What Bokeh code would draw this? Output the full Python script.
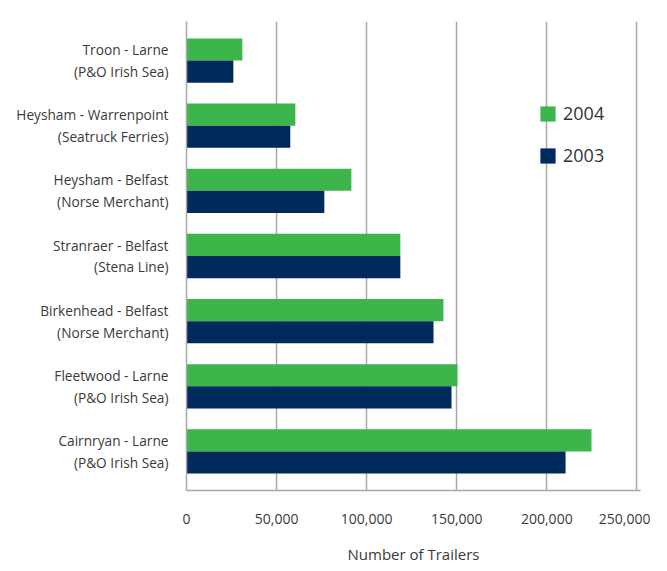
from bokeh.plotting import figure
from bokeh.models import Range1d, FixedTicker, NumeralTickFormatter, Legend, LegendItem, ColumnDataSource
from bokeh.embed import file_html
from bokeh.resources import INLINE

routes = [
    "Troon - Larne\n(P&O Irish Sea)",
    "Heysham - Warrenpoint\n(Seatruck Ferries)",
    "Heysham - Belfast\n(Norse Merchant)",
    "Stranraer - Belfast\n(Stena Line)",
    "Birkenhead - Belfast\n(Norse Merchant)",
    "Fleetwood - Larne\n(P&O Irish Sea)",
    "Cairnryan - Larne\n(P&O Irish Sea)",
]
trailers_2004 = [31000, 60400, 91500, 118700, 142600, 150400, 224800]
trailers_2003 = [26000, 57600, 76500, 118700, 137100, 147100, 210400]
x_ticks = [0, 50000, 100000, 150000, 200000, 250000]

GREEN = "#3cb54a"
NAVY = "#00295c"
GRID = "#a8a8a8"
TEXT = "#3a3a3a"
FONT = "Open Sans"

idx = list(range(len(routes)))
off = 0.17
src04 = ColumnDataSource(dict(y=[i - off for i in idx], v=trailers_2004))
src03 = ColumnDataSource(dict(y=[i + off for i in idx], v=trailers_2003))

p = figure(
    output_backend="svg", toolbar_location=None,
    frame_width=454, frame_height=469,
    min_border_left=186, min_border_top=21, min_border_right=10, min_border_bottom=72,
    x_range=Range1d(0, 252000), y_range=Range1d(6.6, -0.6),
)
p.outline_line_color = None
p.background_fill_color = "white"
p.border_fill_color = "white"

r04 = p.hbar(y="y", right="v", left=0, height=0.34, source=src04, fill_color=GREEN, line_color=None)
r03 = p.hbar(y="y", right="v", left=0, height=0.34, source=src03, fill_color=NAVY, line_color=None)

# x axis
p.xaxis.ticker = FixedTicker(ticks=x_ticks)
p.xaxis.formatter = NumeralTickFormatter(format="0,0")
p.xaxis.major_tick_line_color = None
p.xaxis.minor_tick_line_color = None
p.xaxis.axis_line_color = GRID
p.xaxis.axis_line_width = 1.5
p.xaxis.major_label_text_font = FONT
p.xaxis.major_label_text_font_size = "14px"
p.xaxis.major_label_text_color = TEXT
p.xaxis.major_label_standoff = 17
p.xaxis.axis_label = "Number of Trailers"
p.xaxis.axis_label_text_font = FONT
p.xaxis.axis_label_text_font_size = "15px"
p.xaxis.axis_label_text_font_style = "normal"
p.xaxis.axis_label_text_color = TEXT
p.xaxis.axis_label_standoff = 17

# y axis
p.yaxis.ticker = FixedTicker(ticks=idx)
p.yaxis.major_label_overrides = {i: routes[i] for i in idx}
p.yaxis.major_tick_line_color = None
p.yaxis.minor_tick_line_color = None
p.yaxis.axis_line_color = GRID
p.yaxis.axis_line_width = 1.5
p.yaxis.major_label_text_font = FONT
p.yaxis.major_label_text_font_size = "13.7px"
p.yaxis.major_label_text_color = TEXT
p.yaxis.major_label_text_line_height = 1.15
p.yaxis.major_label_standoff = 12

p.xgrid.grid_line_color = GRID
p.xgrid.grid_line_width = 1.5
p.ygrid.grid_line_color = None

legend = Legend(
    items=[LegendItem(label="2004", renderers=[r04]), LegendItem(label="2003", renderers=[r03])],
    location=(352, 323),
    glyph_width=19, glyph_height=19, label_height=20, spacing=18,
    padding=0, margin=0, border_line_color=None, background_fill_alpha=0,
    label_text_font=FONT, label_text_font_size="18px", label_text_color="#333333",
    label_standoff=6,
)
p.add_layout(legend)

open("out.html", "w").write(file_html(p, INLINE))
